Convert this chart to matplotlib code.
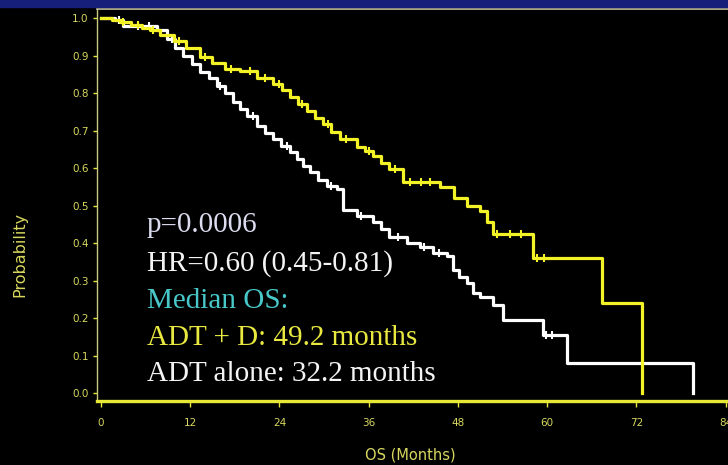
import numpy as np
import matplotlib
matplotlib.use('Agg')
import matplotlib.pyplot as plt
from matplotlib.patches import Rectangle

# 生存曲线数据 (月, 生存概率)
adt_d_time = [0, 1.5, 2.6, 4, 5.5, 6.6, 8, 9.9, 11.5, 13.3, 15, 16.7, 18.7, 21, 23.1, 24.3,
              25.4, 26.5, 27.7, 28.8, 29.8, 31, 32.1, 34.4, 35.5, 36.6, 37.7, 38.8, 40.6,
              45.6, 47.5, 49.2, 50.9, 51.9, 52.7, 58.1, 67.3, 72.7]
adt_d_surv = [1.0, 0.995, 0.99, 0.983, 0.975, 0.968, 0.955, 0.94, 0.92, 0.898, 0.88, 0.866,
              0.86, 0.84, 0.826, 0.81, 0.79, 0.772, 0.753, 0.735, 0.718, 0.698, 0.678, 0.657,
              0.645, 0.633, 0.615, 0.598, 0.563, 0.55, 0.52, 0.499, 0.485, 0.456, 0.424,
              0.362, 0.241, 0.0]
adt_d_censor = [3, 5, 7, 10.5, 14, 17.5, 20, 22, 24, 27, 30.5, 33, 36, 39.5, 41.5, 43, 44.3,
                53.3, 55, 56.5, 58.6, 59.6]

adt_time = [0, 1.9, 3, 7.5, 8.9, 10, 11, 12.2, 13.3, 14.5, 15.6, 16.7, 17.7, 18.7, 19.6, 21,
            22, 23.1, 24.2, 25.4, 26.3, 27.2, 28.1, 29.2, 30.4, 31.7, 32.5, 34.4, 36.6, 37.7,
            38.8, 41.1, 42.9, 44.6, 46.5, 47.3, 48.2, 49.2, 50, 50.9, 52.7, 54.0, 59.4, 62.6,
            79.6]
adt_surv = [1.0, 0.995, 0.979, 0.968, 0.946, 0.922, 0.90, 0.878, 0.858, 0.84, 0.82, 0.80,
            0.777, 0.758, 0.74, 0.713, 0.695, 0.678, 0.66, 0.643, 0.625, 0.607, 0.59, 0.57,
            0.552, 0.544, 0.49, 0.472, 0.456, 0.437, 0.418, 0.402, 0.391, 0.375, 0.365, 0.33,
            0.31, 0.295, 0.268, 0.257, 0.236, 0.196, 0.155, 0.080, 0.0]
adt_censor = [2.5, 5, 6.5, 9.5, 16, 20.5, 25, 31, 35, 40, 43.5, 45.5, 59.8, 60.6]

x_ticks = [0, 12, 24, 36, 48, 60, 72, 84]
y_ticks = [0.0, 0.1, 0.2, 0.3, 0.4, 0.5, 0.6, 0.7, 0.8, 0.9, 1.0]

YELLOW = '#f2f226'
AXIS_YELLOW = '#e8e838'
LABEL_YELLOW = '#d8d860'


def surv_at(times, surv, t):
    # 阶梯函数取值
    idx = np.searchsorted(times, t, side='right') - 1
    return np.array(surv)[idx]


fig = plt.figure(figsize=(7.28, 4.65), dpi=100, facecolor='black')
# 顶部蓝色条
fig.patches.append(Rectangle((0, 1 - 7 / 465), 1, 7 / 465, transform=fig.transFigure,
                             color='#16207a', zorder=0))

ax = fig.add_axes([0.133, 0.1376, 0.867, 0.843])
ax.set_facecolor('black')

ax.step(adt_time, adt_surv, where='post', color='white', lw=2.3, zorder=3)
ax.step(adt_d_time, adt_d_surv, where='post', color=YELLOW, lw=2.3, zorder=4)
ax.plot(adt_censor, surv_at(adt_time, adt_surv, adt_censor), ls='none', marker='|',
        color='white', ms=6, mew=1.5, zorder=3)
ax.plot(adt_d_censor, surv_at(adt_d_time, adt_d_surv, adt_d_censor), ls='none', marker='|',
        color=YELLOW, ms=6, mew=1.5, zorder=4)

ax.set_xlim(-0.54, 84.3)
ax.set_ylim(-0.0205, 1.0248)
ax.set_xticks(x_ticks)
ax.set_yticks(y_ticks)
ax.set_xticklabels([str(v) for v in x_ticks])
ax.set_yticklabels([f'{v:.1f}' for v in y_ticks])
ax.tick_params(axis='x', colors=AXIS_YELLOW, labelcolor=LABEL_YELLOW, labelsize=7.5,
               length=4, width=1, pad=8, direction='out')
ax.tick_params(axis='y', colors=AXIS_YELLOW, labelcolor=LABEL_YELLOW, labelsize=7.5,
               length=3, width=1, pad=3, direction='out')

ax.spines['bottom'].set_color(AXIS_YELLOW)
ax.spines['bottom'].set_linewidth(2.4)
ax.spines['left'].set_color('#c8c880')
ax.spines['left'].set_linewidth(1.0)
ax.spines['top'].set_color('#c8c8a0')
ax.spines['top'].set_linewidth(1.2)
ax.spines['right'].set_visible(False)

fig.text(0.027, 0.452, 'Probability', rotation=90, color=LABEL_YELLOW, fontsize=11.5,
         ha='center', va='center')
fig.text(0.563, 0.0215, 'OS (Months)', color=LABEL_YELLOW, fontsize=10.5,
         ha='center', va='center')

serif = 'Liberation Serif'
fs = 21
fig.text(0.202, 1 - 232 / 465, 'p=0.0006', color='#dcdcf0', fontsize=fs,
         family=serif, va='baseline')
fig.text(0.202, 1 - 271 / 465, 'HR=0.60 (0.45-0.81)', color='#f4f4f4', fontsize=fs,
         family=serif, va='baseline')
fig.text(0.202, 1 - 308 / 465, 'Median OS:', color='#48c8c8', fontsize=fs,
         family=serif, va='baseline')
fig.text(0.202, 1 - 345 / 465, 'ADT + D: 49.2 months', color='#e8e840', fontsize=fs,
         family=serif, va='baseline')
fig.text(0.202, 1 - 381 / 465, 'ADT alone: 32.2 months', color='#f4f4f4', fontsize=fs,
         family=serif, va='baseline')

fig.savefig('out.png', dpi=100, facecolor='black')
